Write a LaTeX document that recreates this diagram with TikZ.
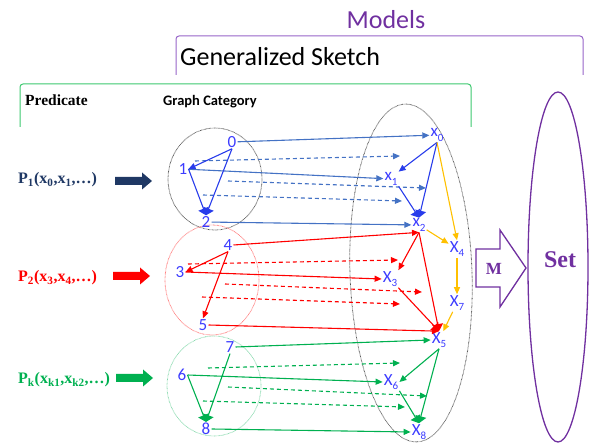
\documentclass[tikz,border=0pt]{standalone}
\usepackage{fontspec}
\setmainfont{Carlito}
\newfontfamily\tnr{Liberation Serif}
\usetikzlibrary{arrows.meta}
\definecolor{mpurple}{RGB}{112,48,160}
\definecolor{bpurple}{RGB}{150,100,200}
\definecolor{mgreen}{RGB}{0,176,80}
\definecolor{bgreen}{RGB}{60,200,110}
\definecolor{navy}{RGB}{31,56,100}
\definecolor{mblue}{RGB}{68,114,196}
\definecolor{tblue}{RGB}{40,60,235}
\definecolor{lblue}{RGB}{60,60,255}
\definecolor{gold}{RGB}{255,192,0}
\definecolor{mred}{RGB}{255,0,0}
\newcommand\sbs[1]{\raisebox{-0.25em}{\fontsize{11}{11}\selectfont #1}}
\begin{document}
\begin{tikzpicture}[x=1pt,y=-1pt,
  lab/.style={text=lblue,font=\fontsize{17}{17}\selectfont,inner sep=1pt},
  arr/.style={line width=1.1pt,-{Triangle[length=7pt,width=6pt]}},
  heavy/.style={line width=1.1pt,-{Triangle[length=7pt,width=11pt]}},
  dsh/.style={arr,dash pattern=on 4pt off 3pt},
  dotc/.style={dash pattern=on 0.6pt off 0.7pt,line width=0.8pt},
  plab/.style={anchor=base west,inner sep=0pt,font=\tnr\bfseries\fontsize{16}{16}\selectfont}
]
\useasboundingbox (0,0) rectangle (589,443);

% titles and brackets
\node[anchor=base,inner sep=0pt,text=mpurple,font=\fontsize{26}{26}\selectfont] (models) at (386,29) {Models};
\draw[bpurple,line width=1pt,rounded corners=3pt] (176,75) -- (176,36) -- (583,36) -- (583,75);
\node[anchor=base west,inner sep=0pt,font=\fontsize{26}{26}\selectfont] (gs) at (180,66) {Generalized Sketch};
\draw[bgreen,line width=1pt,rounded corners=3pt] (20,127) -- (20,84) -- (471,84) -- (471,127);
\node[anchor=base west,inner sep=0pt,font=\tnr\bfseries\fontsize{15.5}{15.5}\selectfont] (pred) at (25,106) {Predicate};
\node[anchor=base west,inner sep=0pt,font=\bfseries\fontsize{14.5}{14.5}\selectfont] (gc) at (163,106) {Graph Category};

% predicate labels and block arrows
\node[plab,text=navy] (p1) at (18,184) {P\textsubscript{1}(x\textsubscript{0},x\textsubscript{1},…)};
\node[plab,text=mred] (p2) at (18,282) {P\textsubscript{2}(x\textsubscript{3},x\textsubscript{4},…)};
\node[plab,text=mgreen] (pk) at (18,384) {P\textsubscript{k}(x\textsubscript{k1},x\textsubscript{k2},…)};
\fill[navy] (115,177) -- (142,177) -- (142,172.5) -- (152,181) -- (142,189.5) -- (142,185) -- (115,185) -- cycle;
\fill[mred] (113,272) -- (140,272) -- (140,267.5) -- (150,276) -- (140,284.5) -- (140,280) -- (113,280) -- cycle;
\fill[mgreen] (116,374) -- (143,374) -- (143,369.5) -- (153,378) -- (143,386.5) -- (143,382) -- (116,382) -- cycle;

% circles and ellipses
\draw[dotc,black!70] (215,179) ellipse [x radius=47,y radius=51];
\draw[dotc,red!55] (212,280) ellipse [x radius=47,y radius=55];
\draw[dotc,mgreen!50] (214,386) ellipse [x radius=47,y radius=50];
\draw[dotc,black!70] (411,273) ellipse [x radius=61,y radius=169,rotate=2];
\draw[mpurple,line width=1.3pt] (558,267) ellipse [x radius=30,y radius=175];

% M arrow
\draw[mpurple,line width=1.3pt,fill=white] (476,249) -- (500,249) -- (500,230) -- (526,268) -- (500,307) -- (500,287) -- (476,287) -- cycle;
\node[anchor=base,inner sep=0pt,text=mpurple,font=\tnr\bfseries\fontsize{17}{17}\selectfont] (mlab) at (494,275) {M};
\node[anchor=base,inner sep=0pt,text=mpurple,font=\tnr\bfseries\fontsize{24}{24}\selectfont] (setl) at (560,268) {Set};

% graph nodes
\node[lab] (n0) at (232,142) {0};
\node[lab] (n1) at (183,169) {1};
\node[lab] (n2) at (206,222) {2};
\node[lab] (n4) at (228,245) {4};
\node[lab] (n3) at (180,272) {3};
\node[lab] (n5) at (203,325) {5};
\node[lab] (n7) at (230,347) {7};
\node[lab] (n6) at (182,375) {6};
\node[lab] (n8) at (206,429) {8};
\node[lab] (x0) at (437,135) {x\sbs{0}};
\node[lab] (x1) at (391,179) {x\sbs{1}};
\node[lab] (x2) at (419,225) {x\sbs{2}};
\node[lab] (X3) at (390,279) {X\sbs{3}};
\node[lab] (X4) at (457,249) {X\sbs{4}};
\node[lab] (X7) at (457,303) {X\sbs{7}};
\node[lab] (X5) at (439,340) {X\sbs{5}};
\node[lab] (X6) at (391,382) {X\sbs{6}};
\node[lab] (X8) at (419,432) {X\sbs{8}};

% dashed free ends
\coordinate (d1a) at (195,161); \coordinate (d1b) at (400,156);
\coordinate (d2a) at (228,181); \coordinate (d2b) at (426,188);
\coordinate (d3a) at (203,195); \coordinate (d3b) at (402,201);
\coordinate (r1a) at (188,264); \coordinate (r1b) at (398,260);
\coordinate (r2a) at (225,284); \coordinate (r2b) at (422,292);
\coordinate (r3a) at (202,297); \coordinate (r3b) at (400,304);
\coordinate (g1a) at (208,368); \coordinate (g1b) at (400,363);
\coordinate (g2a) at (228,387); \coordinate (g2b) at (427,396);
\coordinate (g3a) at (203,401); \coordinate (g3b) at (405,407);

% blue
\draw[arr,mblue] (n0) -- (x0);
\draw[arr,mblue] (n1) -- (x1);
\draw[arr,mblue] (n2) -- (x2);
\draw[dsh,mblue] (d1a) -- (d1b);
\draw[dsh,mblue] (d2a) -- (d2b);
\draw[dsh,mblue] (d3a) -- (d3b);
\draw[arr,tblue] (n0.south) -- (n1.east);
\draw[heavy,tblue] (n0.south) -- (n2.north);
\draw[heavy,tblue] (n1.east) -- (n2.north);
\draw[arr,tblue] (x0.south) -- (x1.north east);
\draw[heavy,tblue] (x0.south) -- (x2.north);
\draw[heavy,tblue] (x1.south east) -- (x2.north);

% red
\draw[arr,mred] (n4.east) -- (x2.south);
\draw[arr,mred] (n3.east) -- (X3.west);
\draw[arr,mred] (n5.east) -- (X5.north);
\draw[dsh,mred] (r1a) -- (r1b);
\draw[dsh,mred] (r2a) -- (r2b);
\draw[dsh,mred] (r3a) -- (r3b);
\draw[arr,mred] (n4.south) -- (n3.east);
\draw[arr,mred] (n4.south) -- (n5.north);
\draw[arr,mred] (x2.south) -- (X3.north east);
\draw[heavy,mred] (x2.south) -- (X5.north);
\draw[heavy,mred] (X3.south east) -- (X5.north);

% green
\draw[arr,mgreen] (n7.east) -- (X5.west);
\draw[arr,mgreen] (n6.east) -- (X6.west);
\draw[arr,mgreen] (n8.east) -- (X8.west);
\draw[dsh,mgreen] (g1a) -- (g1b);
\draw[dsh,mgreen] (g2a) -- (g2b);
\draw[dsh,mgreen] (g3a) -- (g3b);
\draw[heavy,mgreen] (n7.south) -- (n8.north);
\draw[heavy,mgreen] (n6.east) -- (n8.north);
\draw[arr,mgreen] (X5.south) -- (X6.east);
\draw[heavy,mgreen] (X5.south) -- (X8.north);
\draw[heavy,mgreen] (X6.south east) -- (X8.north);

% yellow
\draw[arr,gold] (x0.south) -- (X4.north);
\draw[arr,gold] (x2) -- (X4);
\draw[arr,gold] (X4.south) -- (X7.north);
\draw[arr,gold] (X7) -- (X5);
\end{tikzpicture}
\end{document}
